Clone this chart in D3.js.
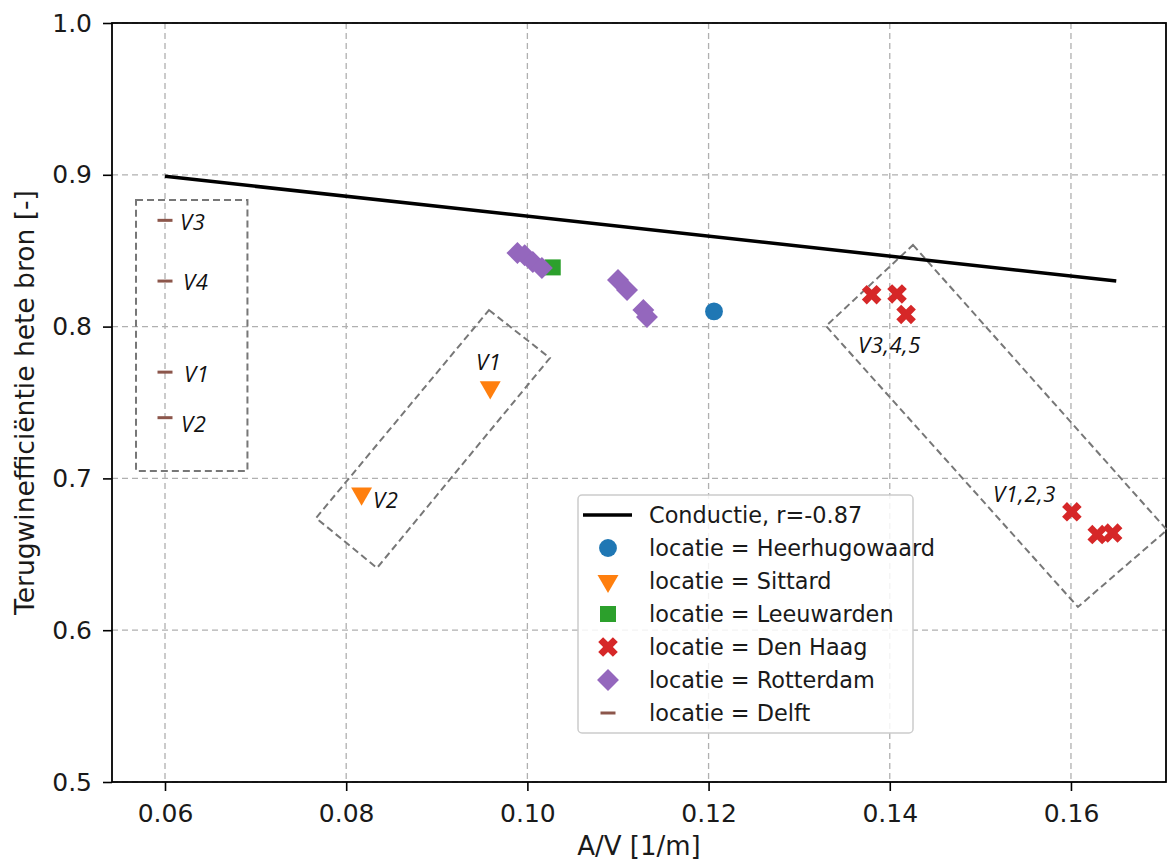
<!DOCTYPE html>
<html><head><meta charset="utf-8">
<script src="https://cdn.jsdelivr.net/npm/d3@7"></script>
<style>
html,body{margin:0;padding:0;background:#fff;}
svg{display:block;}
text{font-family:"DejaVu Sans",sans-serif;fill:#1a1a1a;}
.ann{font-family:"Open Sans",sans-serif;font-style:italic;fill:#111;}
</style></head>
<body><svg id="c" width="1170" height="861"></svg>
<script>
// ---- data ----
const xTicks = [0.06, 0.08, 0.10, 0.12, 0.14, 0.16];
const yTicks = [0.5, 0.6, 0.7, 0.8, 0.9, 1.0];
const fitX = [0.06, 0.165];
const fitY = [0.899, 0.830];
const heerhugowaardX = [0.1206];
const heerhugowaardY = [0.810];
const sittardX = [0.0959, 0.0817];
const sittardY = [0.760, 0.690];
const leeuwardenX = [0.1028];
const leeuwardenY = [0.839];
const denHaagX = [0.1380, 0.1408, 0.1418, 0.1601, 0.1629, 0.1646];
const denHaagY = [0.821, 0.8215, 0.808, 0.678, 0.663, 0.664];
const rotterdamX = [0.0989, 0.0997, 0.1006, 0.1016, 0.1100, 0.1110, 0.1128, 0.1132];
const rotterdamY = [0.8485, 0.847, 0.8426, 0.8386, 0.8307, 0.8241, 0.811, 0.8063];
const delftX = [0.06, 0.06, 0.06, 0.06];
const delftY = [0.870, 0.830, 0.770, 0.740];
const legendLabels = ["Conductie, r=-0.87", "locatie = Heerhugowaard", "locatie = Sittard",
  "locatie = Leeuwarden", "locatie = Den Haag", "locatie = Rotterdam", "locatie = Delft"];
// annotation boxes (data coords)
const delftBoxX = [0.0568, 0.0691, 0.0691, 0.0568];
const delftBoxY = [0.8834, 0.8834, 0.7049, 0.7049];
const sittardBoxX = [0.09576, 0.10249, 0.0834, 0.07667];
const sittardBoxY = [0.8109, 0.7793, 0.6410, 0.6739];
const denHaagBoxX = [0.14256, 0.17060, 0.16077, 0.13296];
const denHaagBoxY = [0.8538, 0.6660, 0.6153, 0.8004];
const annText = ["V3", "V4", "V1", "V2", "V1", "V2", "V3,4,5", "V1,2,3"];
const annX = [0.06166, 0.06199, 0.06210, 0.06177, 0.09433, 0.08296, 0.13649, 0.15139];
const annY = [0.8636, 0.8241, 0.7635, 0.7306, 0.7714, 0.6805, 0.7826, 0.6845];

const colors = {blue:"#1f77b4", orange:"#ff7f0e", green:"#2ca02c", red:"#d62728", purple:"#9467bd", brown:"#8c564b"};

// ---- layout ----
const svg = d3.select("#c");
const L = 112, R = 1166, T = 23, B = 782;
const x = d3.scaleLinear().domain([0.05415, 0.17049]).range([L, R]);
const y = d3.scaleLinear().domain([0.5, 1.0]).range([B, T]);

// grid
const grid = svg.append("g");
grid.selectAll("line.gx").data(xTicks).join("line")
  .attr("x1", d => x(d)).attr("x2", d => x(d)).attr("y1", T).attr("y2", B)
  .attr("stroke", "#b0b0b0").attr("stroke-width", 1.3).attr("stroke-dasharray", "6,4");
grid.selectAll("line.gy").data(yTicks).join("line")
  .attr("y1", d => y(d)).attr("y2", d => y(d)).attr("x1", L).attr("x2", R)
  .attr("stroke", "#b0b0b0").attr("stroke-width", 1.3).attr("stroke-dasharray", "6,4");

// axes
const xAxis = d3.axisBottom(x).tickValues(xTicks).tickFormat(d3.format(".2f")).tickSize(9).tickPadding(13);
const yAxis = d3.axisLeft(y).tickValues(yTicks).tickFormat(d3.format(".1f")).tickSize(9).tickPadding(11);
const gx = svg.append("g").attr("transform", `translate(0,${B})`).call(xAxis);
const gy = svg.append("g").attr("transform", `translate(${L},0)`).call(yAxis);
[gx, gy].forEach(g => {
  g.select(".domain").remove();
  g.selectAll(".tick line").attr("stroke", "#000").attr("stroke-width", 1.6);
  g.selectAll(".tick text").style("font-family", "DejaVu Sans").style("font-size", "25px").attr("fill", "#1a1a1a");
});
// frame
svg.append("rect").attr("x", L).attr("y", T).attr("width", R - L).attr("height", B - T)
  .attr("fill", "none").attr("stroke", "#000").attr("stroke-width", 1.8);

// axis labels
svg.append("text").attr("x", 639).attr("y", 855).attr("text-anchor", "middle")
  .style("font-size", "26px").text("A/V [1/m]");
svg.append("text").attr("transform", `translate(34,${(T + B) / 2}) rotate(-90)`).attr("text-anchor", "middle")
  .style("font-size", "26.5px").text("Terugwinefficiëntie hete bron [-]");

// annotation boxes
const boxes = [[delftBoxX, delftBoxY], [sittardBoxX, sittardBoxY], [denHaagBoxX, denHaagBoxY]];
svg.selectAll("polygon.box").data(boxes).join("polygon")
  .attr("points", b => b[0].map((v, i) => `${x(v)},${y(b[1][i])}`).join(" "))
  .attr("fill", "none").attr("stroke", "#777").attr("stroke-width", 2).attr("stroke-dasharray", "7,4");

// fit line
svg.append("path").datum(fitX.map((v, i) => [v, fitY[i]]))
  .attr("d", d3.line().x(d => x(d[0])).y(d => y(d[1])))
  .attr("stroke", "#000").attr("stroke-width", 3.5).attr("fill", "none");

// marker generators
const sym = {
  circle: d3.symbol(d3.symbolCircle, 250)(),
  tri: d3.symbol(d3.symbolTriangle, 190)(),
  square: d3.symbol(d3.symbolSquare, 256)(),
  cross: d3.symbol(d3.symbolCross, 240)(),
  diamond: d3.symbol(d3.symbolSquare, 240)()
};
function pts(xs, ys) { return xs.map((v, i) => [v, ys[i]]); }
function drawMarkers(data, path, color, rot) {
  svg.append("g").selectAll("path").data(data).join("path")
    .attr("d", path).attr("fill", color)
    .attr("transform", d => `translate(${x(d[0])},${y(d[1])}) rotate(${rot})`);
}
drawMarkers(pts(heerhugowaardX, heerhugowaardY), sym.circle, colors.blue, 0);
drawMarkers(pts(sittardX, sittardY), sym.tri, colors.orange, 180);
drawMarkers(pts(leeuwardenX, leeuwardenY), sym.square, colors.green, 0);
drawMarkers(pts(denHaagX, denHaagY), sym.cross, colors.red, 45);
drawMarkers(pts(rotterdamX, rotterdamY), sym.diamond, colors.purple, 45);
svg.append("g").selectAll("line").data(pts(delftX, delftY)).join("line")
  .attr("x1", d => x(d[0]) - 7.5).attr("x2", d => x(d[0]) + 7.5)
  .attr("y1", d => y(d[1])).attr("y2", d => y(d[1]))
  .attr("stroke", colors.brown).attr("stroke-width", 3);

// annotation text
svg.selectAll("text.ann").data(annText).join("text").attr("class", "ann")
  .attr("x", (d, i) => x(annX[i])).attr("y", (d, i) => y(annY[i]))
  .style("font-size", "22px").style("letter-spacing", "0.6px").text(d => d);

// legend
const lg = svg.append("g").attr("transform", "translate(578,495)");
lg.append("rect").attr("width", 335).attr("height", 238).attr("rx", 4)
  .attr("fill", "#fff").attr("fill-opacity", 0.85).attr("stroke", "#cccccc").attr("stroke-width", 1.5);
const rowY = i => 20 + i * 33;
lg.append("line").attr("x1", 5).attr("x2", 54).attr("y1", rowY(0)).attr("y2", rowY(0))
  .attr("stroke", "#000").attr("stroke-width", 3.5);
const legSyms = [[sym.circle, colors.blue, 0], [sym.tri, colors.orange, 180], [sym.square, colors.green, 0],
  [sym.cross, colors.red, 45], [sym.diamond, colors.purple, 45]];
legSyms.forEach((s, i) => {
  lg.append("path").attr("d", s[0]).attr("fill", s[1])
    .attr("transform", `translate(30,${rowY(i + 1)}) rotate(${s[2]})`);
});
lg.append("line").attr("x1", 22.5).attr("x2", 37.5).attr("y1", rowY(6)).attr("y2", rowY(6))
  .attr("stroke", colors.brown).attr("stroke-width", 3);
lg.selectAll("text.lt").data(legendLabels).join("text")
  .attr("x", 71).attr("y", (d, i) => rowY(i) + 8)
  .style("font-size", "22.4px").text(d => d);
</script></body></html>
